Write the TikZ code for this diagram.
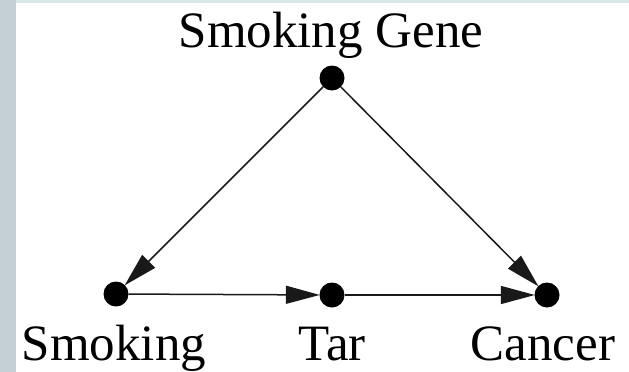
\documentclass[tikz,border=0pt]{standalone}
\usepackage{fontspec}
\newfontfamily\lblfont{LiberationSerif}[Extension=.ttf,UprightFont=*-Regular]
\usetikzlibrary{arrows.meta}
\definecolor{strip}{HTML}{C4D0D6}
\definecolor{topstrip}{HTML}{DCE5E9}
\begin{document}
\begin{tikzpicture}[x=1pt,y=-1pt,
  dot/.style={circle,fill=black,inner sep=0pt,minimum size=25pt},
  lbl/.style={font=\lblfont\fontsize{51}{51}\selectfont,inner sep=0pt,anchor=base},
  edge/.style={line width=1.5pt,draw=black!90,-{Triangle[length=34pt,width=18pt]},shorten >=-0.5pt}]
\useasboundingbox (0,0) rectangle (629,372);
\fill[white] (0,0) rectangle (629,372);
\fill[topstrip] (0,0) rectangle (629,2.5);
\fill[strip] (0,0) rectangle (16,372);
\node[dot] (gene) at (332,78) {};
\node[dot] (smoking) at (116,294) {};
\node[dot] (tar) at (332,295) {};
\node[dot] (cancer) at (547,295) {};
\node[lbl] (tgene) at (331,47) {Smoking Gene};
\node[lbl] (tsmoking) at (114,360) {Smoking};
\node[lbl] (ttar) at (332,360) {Tar};
\node[lbl] (tcancer) at (543,360) {Cancer};
\draw[edge] (gene) -- (smoking);
\draw[edge] (gene) -- (cancer);
\draw[edge] (smoking) -- (tar);
\draw[edge] (tar) -- (cancer);
\end{tikzpicture}
\end{document}
